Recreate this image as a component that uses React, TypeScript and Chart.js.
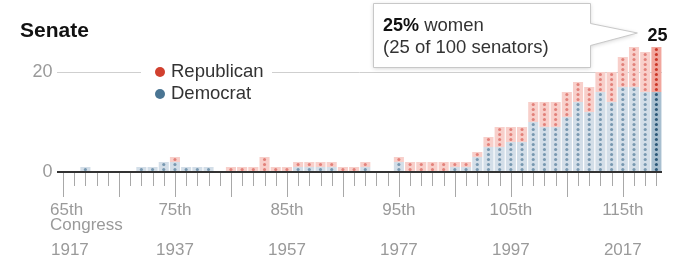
import React, { useEffect, useRef } from "react";
import { Chart, registerables } from "chart.js";

Chart.register(...registerables);

// ---- Data ----
const congresses: number[] = [
  65, 66, 67, 68, 69, 70, 71, 72, 73, 74, 75, 76, 77, 78, 79, 80, 81, 82, 83, 84,
  85, 86, 87, 88, 89, 90, 91, 92, 93, 94, 95, 96, 97, 98, 99, 100, 101, 102, 103,
  104, 105, 106, 107, 108, 109, 110, 111, 112, 113, 114, 115, 116, 117, 118,
];
const democrats: number[] = [
  0, 0, 1, 0, 0, 0, 0, 1, 1, 2, 2, 1, 1, 1, 0, 0, 0, 0, 0, 0,
  0, 1, 1, 1, 1, 0, 0, 1, 0, 0, 2, 0, 0, 0, 0, 1, 1, 3, 5,
  5, 6, 6, 10, 9, 9, 11, 14, 12, 16, 14, 17, 17, 16, 16,
];
const republicans: number[] = [
  0, 0, 0, 0, 0, 0, 0, 0, 0, 0, 1, 0, 0, 0, 0, 1, 1, 1, 3, 1,
  1, 1, 1, 1, 1, 1, 1, 1, 0, 0, 1, 2, 2, 2, 2, 1, 1, 1, 2,
  4, 3, 3, 4, 5, 5, 5, 4, 5, 4, 6, 6, 8, 8, 9,
];
const labeledCongresses: number[] = [65, 75, 85, 95, 105, 115];
const labeledYears: string[] = ["1917", "1937", "1957", "1977", "1997", "2017"];
const yTicks: number[] = [0, 20];
const totalWomen = 25;
const totalSenators = 100;

// ---- Styles ----
const FONT = '"Liberation Sans", Arial, sans-serif';
const DEM_BG = "#d3dee8";
const DEM_DOT = "#7898b0";
const REP_BG = "#f8cfca";
const REP_DOT = "#e2817a";
const DEM_BG_HI = "#a8bfd0";
const DEM_DOT_HI = "#2c5878";
const REP_BG_HI = "#f1a69d";
const REP_DOT_HI = "#cc3727";
const LEG_RED = "#d1402f";
const LEG_BLUE = "#4a7593";

const lastIdx = congresses.length - 1;

const decorPlugin = {
  id: "decor",
  afterDatasetsDraw(chart: any) {
    const ctx = chart.ctx;
    const y = chart.scales.y;
    const series = [
      { data: democrats, dot: DEM_DOT, hi: DEM_DOT_HI },
      { data: republicans, dot: REP_DOT, hi: REP_DOT_HI },
    ];
    ctx.save();
    series.forEach((s, di) => {
      const meta = chart.getDatasetMeta(di);
      meta.data.forEach((el: any, i: number) => {
        const base = di === 0 ? 0 : democrats[i];
        const v = s.data[i];
        ctx.fillStyle = i === lastIdx ? s.hi : s.dot;
        for (let k = 0; k < v; k++) {
          const py = y.getPixelForValue(base + k + 0.5);
          ctx.beginPath();
          ctx.arc(el.x, py, 1.55, 0, Math.PI * 2);
          ctx.fill();
        }
      });
    });
    ctx.restore();
  },
  afterDraw(chart: any) {
    const ctx = chart.ctx;
    const x = chart.scales.x;
    const y = chart.scales.y;
    const zeroY = y.getPixelForValue(0);
    ctx.save();

    // Title
    ctx.fillStyle = "#111";
    ctx.font = `bold 21px ${FONT}`;
    ctx.textBaseline = "middle";
    ctx.textAlign = "left";
    ctx.fillText("Senate", 20, 31);

    // x ticks
    ctx.strokeStyle = "#a8a8a8";
    ctx.lineWidth = 1;
    congresses.forEach((c, i) => {
      const px = Math.round(x.getPixelForValue(i)) + 0.5;
      const len = c % 5 === 0 ? 25 : 14;
      ctx.beginPath();
      ctx.moveTo(px, zeroY + 1);
      ctx.lineTo(px, zeroY + len);
      ctx.stroke();
    });

    // x labels
    ctx.fillStyle = "#9a9a9a";
    ctx.font = `17px ${FONT}`;
    labeledCongresses.forEach((c, j) => {
      const px = x.getPixelForValue(congresses.indexOf(c));
      if (j === 0) {
        ctx.textAlign = "left";
        ctx.fillText(`${c}th`, px - 13, zeroY + 38);
        ctx.fillText("Congress", px - 13, zeroY + 53);
        ctx.fillText(labeledYears[j], px - 12, zeroY + 78);
      } else {
        ctx.textAlign = "center";
        ctx.fillText(`${c}th`, px, zeroY + 38);
        ctx.fillText(labeledYears[j], px, zeroY + 78);
      }
    });

    // Legend
    const gy = y.getPixelForValue(20);
    ctx.fillStyle = "#fff";
    ctx.fillRect(141, gy - 8, 131, 40);
    ctx.fillStyle = LEG_RED;
    ctx.beginPath();
    ctx.arc(160, gy, 5, 0, Math.PI * 2);
    ctx.fill();
    ctx.fillStyle = LEG_BLUE;
    ctx.beginPath();
    ctx.arc(160, gy + 22, 5, 0, Math.PI * 2);
    ctx.fill();
    ctx.fillStyle = "#333";
    ctx.font = `18.5px ${FONT}`;
    ctx.textAlign = "left";
    ctx.fillText("Republican", 171, gy);
    ctx.fillText("Democrat", 171, gy + 22);

    // Callout
    const lx = x.getPixelForValue(lastIdx);
    const topY = y.getPixelForValue(democrats[lastIdx] + republicans[lastIdx]);
    const tipX = lx - 19;
    const tipY = topY - 14;
    ctx.save();
    ctx.shadowColor = "rgba(0,0,0,0.18)";
    ctx.shadowBlur = 4;
    ctx.shadowOffsetY = 1;
    ctx.beginPath();
    ctx.moveTo(373.5, 3.5);
    ctx.lineTo(590.5, 3.5);
    ctx.lineTo(590.5, 23.5);
    ctx.lineTo(tipX, tipY);
    ctx.lineTo(590.5, 45.5);
    ctx.lineTo(590.5, 67.5);
    ctx.lineTo(373.5, 67.5);
    ctx.closePath();
    ctx.fillStyle = "#fff";
    ctx.fill();
    ctx.restore();
    ctx.strokeStyle = "#c8c8c8";
    ctx.lineWidth = 1;
    ctx.stroke();

    ctx.textAlign = "left";
    ctx.fillStyle = "#111";
    ctx.font = `bold 18px ${FONT}`;
    const pct = `${Math.round((totalWomen / totalSenators) * 100)}%`;
    ctx.fillText(pct, 383, 26);
    const w = ctx.measureText(pct).width;
    ctx.fillStyle = "#333";
    ctx.font = `18.5px ${FONT}`;
    ctx.fillText(" women", 383 + w, 26);
    ctx.fillText(`(${totalWomen} of ${totalSenators} senators)`, 383, 48);

    ctx.fillStyle = "#111";
    ctx.font = `bold 18px ${FONT}`;
    ctx.textAlign = "center";
    ctx.fillText(String(totalWomen), lx + 1, topY - 11);

    ctx.restore();
  },
};

export default function App() {
  const ref = useRef<HTMLCanvasElement | null>(null);
  useEffect(() => {
    document.body.style.margin = "0";
    if (!ref.current) return;
    const chart = new Chart(ref.current, {
      type: "bar",
      data: {
        labels: congresses.map(String),
        datasets: [
          {
            label: "Democrat",
            data: democrats,
            backgroundColor: democrats.map((_, i) => (i === lastIdx ? DEM_BG_HI : DEM_BG)),
            borderWidth: 0,
          },
          {
            label: "Republican",
            data: republicans,
            backgroundColor: republicans.map((_, i) => (i === lastIdx ? REP_BG_HI : REP_BG)),
            borderWidth: 0,
          },
        ],
      },
      options: {
        responsive: false,
        animation: false,
        events: [],
        layout: { padding: { top: 22, right: 16, bottom: 90, left: 0 } },
        datasets: { bar: { barPercentage: 1, categoryPercentage: 0.9 } } as any,
        plugins: { legend: { display: false }, tooltip: { enabled: false } },
        scales: {
          x: { stacked: true, display: false },
          y: {
            stacked: true,
            min: 0,
            max: 30,
            z: 1,
            afterBuildTicks: (s: any) => {
              s.ticks = yTicks.map((v) => ({ value: v }));
            },
            afterFit: (s: any) => {
              s.width = 57.4;
            },
            border: { display: false },
            grid: {
              drawTicks: false,
              color: (c: any) => (c.tick && c.tick.value === 0 ? "#333" : "#cfcfcf"),
              lineWidth: (c: any) => (c.tick && c.tick.value === 0 ? 2 : 1),
            },
            ticks: {
              padding: 5,
              color: "#9a9a9a",
              font: { family: FONT, size: 18 },
            },
          },
        } as any,
      },
      plugins: [decorPlugin],
    });
    return () => chart.destroy();
  }, []);
  return (
    <div style={{ width: 678, height: 262, background: "#fff" }}>
      <canvas ref={ref} width={678} height={262} style={{ display: "block" }} />
    </div>
  );
}
